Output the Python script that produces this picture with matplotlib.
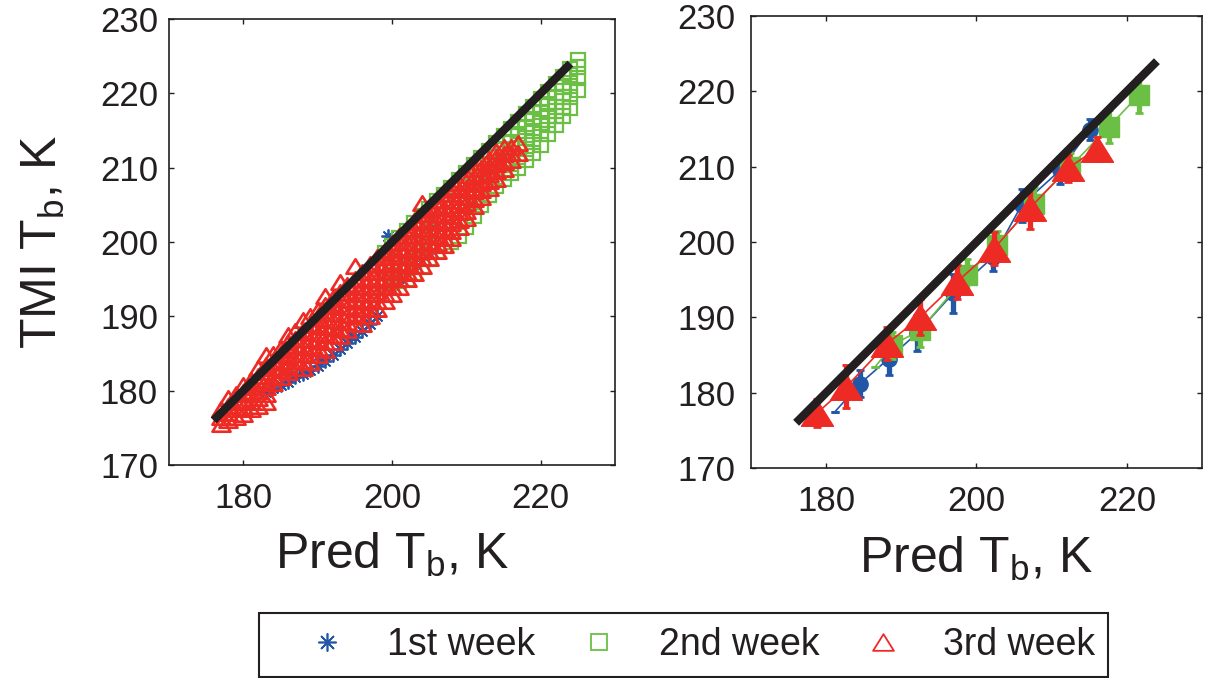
import numpy as np
import matplotlib
matplotlib.use("Agg")
import matplotlib.pyplot as plt
from matplotlib.lines import Line2D
from matplotlib.patches import Rectangle
from matplotlib.path import Path

# =========================
# STYLE
# =========================
plt.rcParams.update({
    "font.family": "Liberation Sans",
    "mathtext.default": "regular",
    "xtick.direction": "in",
    "ytick.direction": "in",
})

DARK = "#231f20"
BLUE = "#2257a8"
GREEN = "#6bbf45"
RED = "#ee2a24"

# =========================
# DATA - left panel (all samples)
# =========================
wk1_x = [183.0, 184.0, 185.0, 186.0, 187.0, 188.0, 189.0, 190.0, 191.0, 192.0,
         193.0, 194.0, 195.0, 196.0, 197.0, 198.0, 186.5, 190.5, 194.5,
         199.5, 201.0, 203.0, 204.8, 205.5]
wk1_y = [179.8, 180.4, 180.8, 181.2, 181.8, 182.3, 182.8, 183.3, 184.0, 184.8,
         185.6, 186.4, 187.2, 188.0, 189.0, 190.0, 182.2, 184.3, 187.3,
         200.8, 195.2, 197.0, 198.5, 202.5]

# 2nd week: x columns and the y values seen in each column
wk2_cols = [199, 200, 201, 202, 203, 204, 205, 206, 207, 208, 209, 210, 211,
            212, 213, 214, 215, 216, 217, 218, 219, 220, 221, 222, 223, 224,
            225]
wk2_rows = [
    [194.5, 196.5, 198.5],
    [194.5, 195.5, 197.5, 199.5],
    [194.8, 196.0, 198.0, 200.5],
    [195.0, 196.5, 198.5, 201.5],
    [195.8, 197.5, 199.5, 202.5],
    [196.8, 198.5, 200.5, 203.5],
    [197.8, 199.5, 201.5, 204.5],
    [198.8, 200.5, 202.5, 205.5],
    [199.5, 201.5, 203.5, 206.3],
    [200.0, 202.5, 204.5, 207.3],
    [200.8, 203.0, 205.5, 208.3],
    [202.0, 204.0, 206.5, 209.3],
    [203.5, 205.0, 207.0, 208.5, 210.3],
    [205.0, 206.5, 208.0, 209.5, 211.3],
    [206.3, 207.5, 209.0, 210.5, 212.3],
    [207.5, 208.8, 210.0, 211.5, 213.3],
    [208.5, 209.8, 211.0, 212.5, 214.2],
    [209.3, 210.5, 212.0, 213.5, 215.2],
    [210.0, 211.5, 213.0, 214.5, 216.2],
    [211.0, 212.5, 214.0, 215.5, 217.2],
    [212.0, 213.5, 215.0, 216.5, 218.2],
    [213.0, 214.5, 216.0, 217.5, 219.2],
    [214.5, 215.8, 217.0, 218.5, 220.2],
    [215.8, 217.0, 218.2, 219.5, 221.2],
    [217.0, 218.2, 219.5, 220.8, 222.2],
    [218.0, 219.5, 221.0, 222.5, 223.3],
    [220.5, 222.0, 223.5, 224.5],
]

# 3rd week: x columns and the y values seen in each column
wk3_cols = [177, 178, 179, 180, 181, 182, 183, 184, 185, 186, 187, 188, 189,
            190, 191, 192, 193, 194, 195, 196, 197, 198, 199, 200, 201, 202,
            203, 204, 205, 206, 207, 208, 209, 210, 211, 212, 213, 214, 215,
            216, 217]
wk3_rows = [
    [175.5, 176.5, 177.5],
    [176.0, 177.0, 178.0, 179.0],
    [176.5, 177.5, 178.5, 179.5],
    [176.8, 177.8, 178.8, 179.8, 180.8],
    [177.5, 178.5, 179.5, 180.5, 181.5],
    [178.0, 179.0, 180.0, 181.0, 182.0, 183.0],
    [178.5, 179.5, 180.5, 181.5, 182.5, 183.5, 184.8],
    [181.0, 182.0, 183.0, 184.0, 185.0],
    [181.8, 182.8, 183.8, 184.8, 185.8],
    [182.5, 183.5, 184.5, 185.5, 186.5, 187.5],
    [183.0, 184.0, 185.0, 186.0, 187.0, 188.0],
    [183.0, 184.0, 185.0, 186.0, 187.0, 188.0, 189.5],
    [183.8, 184.8, 185.8, 186.8, 187.8, 188.8, 190.0],
    [184.8, 185.8, 186.8, 187.8, 188.8, 189.8, 190.8],
    [185.5, 186.5, 187.5, 188.5, 189.5, 190.5, 191.5, 192.8],
    [186.5, 187.5, 188.5, 189.5, 190.5, 191.5, 192.5],
    [187.3, 188.3, 189.3, 190.3, 191.3, 192.3, 193.3, 194.6],
    [188.2, 189.2, 190.2, 191.2, 192.2, 193.2, 194.2],
    [189.0, 190.0, 191.0, 192.0, 193.0, 194.0, 195.0, 196.8],
    [189.0, 190.0, 191.0, 192.0, 193.0, 194.0, 195.0, 196.0],
    [190.0, 191.0, 192.0, 193.0, 194.0, 195.0, 196.0, 197.0],
    [191.0, 192.0, 193.0, 194.0, 195.0, 196.0, 197.0, 198.0],
    [192.0, 193.0, 194.0, 195.0, 196.0, 197.0, 198.0, 198.8],
    [193.0, 194.0, 195.0, 196.0, 197.0, 198.0, 199.0, 199.8],
    [194.0, 195.0, 196.0, 197.0, 198.0, 199.0, 200.0, 200.8],
    [195.0, 196.0, 197.0, 198.0, 199.0, 200.0, 201.0, 201.8],
    [195.8, 196.8, 197.8, 198.8, 199.8, 200.8, 201.8, 202.8],
    [196.8, 197.8, 198.8, 199.8, 200.8, 201.8, 202.8, 203.8, 205.2],
    [197.8, 198.8, 199.8, 200.8, 201.8, 202.8, 203.8, 204.6],
    [198.8, 199.8, 200.8, 201.8, 202.8, 203.8, 204.8, 205.6],
    [199.6, 200.6, 201.6, 202.6, 203.6, 204.6, 205.6, 206.5],
    [200.5, 201.5, 202.5, 203.5, 204.5, 205.5, 206.5, 207.3],
    [202.0, 203.0, 204.0, 205.0, 206.0, 207.0, 208.0],
    [203.2, 204.2, 205.2, 206.2, 207.2, 208.2, 209.0],
    [204.8, 205.8, 206.8, 207.8, 208.8, 209.8],
    [206.0, 207.0, 208.0, 209.0, 210.0, 210.8],
    [207.2, 208.2, 209.2, 210.2, 211.2],
    [208.5, 209.5, 210.5, 211.5, 212.3],
    [209.8, 210.8, 211.8, 212.8],
    [211.0, 212.0, 212.8],
    [212.0, 213.3],
]

# =========================
# DATA - right panel (binned means, error bars)
# =========================
bin1_x = [181.2, 184.5, 188.3, 192.1, 196.9, 202.2, 206.0, 211.1, 215.1]
bin1_y = [177.5, 181.2, 184.5, 187.9, 193.2, 198.0, 204.9, 209.5, 214.9]
bin1_e = [0.0, 1.8, 2.2, 2.4, 2.6, 1.8, 2.2, 1.8, 1.4]

bin2_x = [186.5, 188.8, 192.5, 198.7, 202.7, 207.6, 212.5, 217.6, 221.6]
bin2_y = [183.4, 186.3, 188.3, 195.6, 199.6, 205.1, 210.0, 215.3, 219.5]
bin2_e = [0.0, 1.8, 2.2, 2.2, 1.8, 2.2, 1.8, 2.2, 2.4]

bin3_x = [178.8, 182.7, 188.1, 192.5, 197.4, 202.3, 207.1, 212.2, 216.0]
bin3_y = [177.3, 180.8, 186.5, 190.0, 194.7, 199.1, 204.5, 209.8, 212.4]
bin3_e = [1.8, 2.9, 2.2, 2.4, 2.2, 2.2, 2.8, 1.8, 1.6]

one_to_one = [176, 224]

ticks_x = [180, 200, 220]
ticks_y = [170, 180, 190, 200, 210, 220, 230]


def flatten(cols, rows):
    xs = [c for c, ys in zip(cols, rows) for _ in ys]
    ys = [y for r in rows for y in r]
    return xs, ys


wk2_x, wk2_y = flatten(wk2_cols, wk2_rows)
wk3_x, wk3_y = flatten(wk3_cols, wk3_rows)

ASTER = (8, 2, 0)
# MATLAB-like triangle: wider than tall
WIDE_TRI = Path([(-1.25, -1.0), (1.25, -1.0), (0.0, 1.0), (-1.25, -1.0)],
                [Path.MOVETO, Path.LINETO, Path.LINETO, Path.CLOSEPOLY])

# =========================
# FIGURE
# =========================
W, H = 1205, 678
fig = plt.figure(figsize=(12.05, 6.78), dpi=100)
ax1 = fig.add_axes([169 / W, 1 - 465 / H, 446 / W, 446 / H])
ax2 = fig.add_axes([751 / W, 1 - 468 / H, 451 / W, 452 / H])

# left: raw scatter
ax1.plot(wk1_x, wk1_y, ls="none", marker=ASTER, ms=10, mew=1.3,
         mec=BLUE, mfc=BLUE)
ax1.plot(wk2_x, wk2_y, ls="none", marker="s", ms=9.5, mew=1.6,
         mec=GREEN, mfc="none")
ax1.plot(wk3_x, wk3_y, ls="none", marker=WIDE_TRI, ms=13, mew=1.9,
         mec=RED, mfc="none")
ax1.plot(one_to_one, one_to_one, color=DARK, lw=6, solid_capstyle="butt")

# right: binned means
for bx, by, be, col, mk, ms in [
    (bin1_x, bin1_y, bin1_e, BLUE, "o", 11),
    (bin2_x, bin2_y, bin2_e, GREEN, "s", 14),
    (bin3_x, bin3_y, bin3_e, RED, WIDE_TRI, 23),
]:
    ax2.errorbar(bx, by, yerr=be, fmt="none", ecolor=col, elinewidth=3.8,
                 capsize=3, capthick=2)
    ax2.plot(bx, by, color=col, lw=1.2, marker=mk, ms=ms, mfc=col, mec=col,
             markevery=list(range(1, len(bx))) if be[0] == 0 else None)
ax2.plot(one_to_one, one_to_one, color=DARK, lw=6, solid_capstyle="butt")

for ax, ypad in [(ax1, 8), (ax2, 11)]:
    ax.set_xlim(170, 230)
    ax.set_ylim(170, 230)
    ax.set_xticks(ticks_x)
    ax.set_yticks(ticks_y)
    ax.tick_params(axis="both", which="both", top=True, right=True,
                   length=3.6, width=1.0, color=DARK, labelsize=25,
                   labelcolor=DARK)
    ax.tick_params(axis="x", pad=12)
    ax.tick_params(axis="y", pad=ypad)
    for sp in ax.spines.values():
        sp.set_linewidth(1.2)
        sp.set_color(DARK)

# axis labels
fig.text(392 / W, 1 - 555 / H, r"Pred T$_{b}$, K", fontsize=36,
         ha="center", va="center", color=DARK)
fig.text(976 / W, 1 - 559 / H, r"Pred T$_{b}$, K", fontsize=36,
         ha="center", va="center", color=DARK)
fig.text(43 / W, 1 - 242 / H, r"TMI T$_{b}$, K", fontsize=36,
         rotation=90, ha="center", va="center", color=DARK)

# =========================
# LEGEND
# =========================
handles = [
    Line2D([], [], ls="none", marker=ASTER, ms=13, mew=1.2, mec=BLUE,
           label="1st week"),
    Line2D([], [], ls="none", marker="s", ms=11, mew=1.3, mec=GREEN,
           mfc="none", label="2nd week"),
    Line2D([], [], ls="none", marker=WIDE_TRI, ms=15, mew=1.3, mec=RED,
           mfc="none", label="3rd week"),
]
fig.legend(handles=handles, ncol=3, loc="center left",
           bbox_to_anchor=(297 / W, 1 - 645 / H), borderpad=0,
           borderaxespad=0, fontsize=27, frameon=False,
           handletextpad=0.8, columnspacing=0.9, handlelength=1.6,
           labelcolor=DARK)
fig.patches.append(Rectangle((259 / W, 1 - 677 / H), 849 / W, 64 / H,
                             transform=fig.transFigure, fill=False,
                             edgecolor=DARK, linewidth=1.5))

fig.savefig("out.png", dpi=100)
